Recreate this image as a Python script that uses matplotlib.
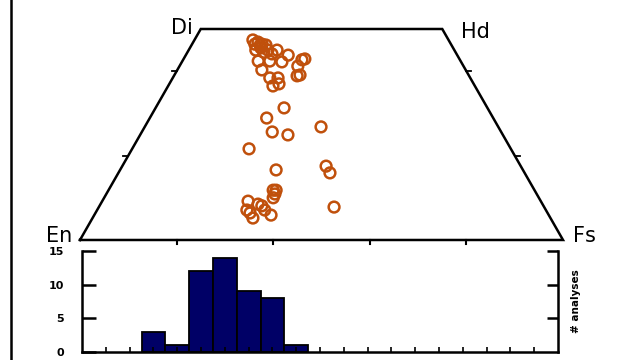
import numpy as np
import matplotlib.pyplot as plt
from matplotlib.lines import Line2D

# pyroxene analyses (mol%): wollastonite and ferrosilite contents
wo = [47.4, 46.9, 46.4, 46.2, 45.5, 45.0, 45.0, 44.1, 43.8, 42.9, 42.7, 42.4,
      42.4, 42.2, 40.3, 41.2, 38.9, 39.1, 38.4, 38.4, 36.5, 37.0, 44.5, 45.0,
      31.3, 28.9, 25.6, 24.9, 26.8, 21.6, 16.6, 17.5, 15.9, 11.8, 10.9, 10.0,
      9.2, 8.5, 8.1, 7.1, 5.2, 6.4, 5.9, 7.8, 11.8, 7.1, 46.2, 46.4]
fs = [12.1, 13.4, 14.5, 15.4, 14.7, 16.4, 18.3, 17.7, 21.2, 25.1, 24.6, 15.7,
      18.1, 20.7, 17.5, 24.5, 25.5, 26.0, 21.8, 20.1, 21.7, 22.7, 15.8, 13.9,
      26.6, 24.2, 27.0, 30.6, 36.5, 24.2, 32.3, 42.2, 43.8, 34.1, 34.9, 35.0,
      30.2, 32.6, 33.6, 31.0, 33.2, 32.0, 36.6, 48.7, 34.7, 34.7, 14.2, 13.0]

# histogram (number of analyses per class)
bin_pos = [3, 4, 5, 6, 7, 8, 9]
counts = [3, 1, 12, 14, 9, 8, 1]

wo = np.array(wo)
fs = np.array(fs)

plt.rcParams['font.family'] = ['DejaVu Sans']
fig = plt.figure(figsize=(6.29, 3.6), dpi=100)

# quadrilateral
ax = fig.add_axes([0, 0, 1, 1])
ax.set_xlim(-16.56, 113.66)
ax.set_ylim(-28.44, 56.87)
ax.axis('off')

quad_x = [0, 25, 75, 100, 0]
quad_y = [0, 50, 50, 0, 0]
ax.plot(quad_x, quad_y, color='black', lw=1.8, solid_joinstyle='miter')

for t in [20, 40, 60, 80]:
    ax.plot([t, t], [0, -1.0], color='black', lw=1.5)
for w in [20, 40]:
    ax.plot([w / 2, w / 2 - 1.0], [w, w], color='black', lw=1.3)
    ax.plot([100 - w / 2, 100 - w / 2 + 1.0], [w, w], color='black', lw=1.3)

ax.scatter(fs + wo / 2, wo, s=60, facecolors='none', edgecolors='#c0500c',
           linewidths=1.8, zorder=3)

lab = dict(fontsize=15, color='black')
ax.text(23.4, 48.8, 'Di', ha='right', va='baseline', **lab)
ax.text(78.9, 47.9, 'Hd', ha='left', va='baseline', **lab)
ax.text(-1.7, -0.5, 'En', ha='right', va='baseline', **lab)
ax.text(102.1, -0.5, 'Fs', ha='left', va='baseline', **lab)

# histogram
hx = fig.add_axes([82 / 629, 8 / 360, 476 / 629, 101 / 360])
hx.patch.set_alpha(0)
hx.bar(bin_pos, counts, width=1.0, color='#000066', edgecolor='black', linewidth=1.3)
hx.set_xlim(0, 20)
hx.set_ylim(0, 15)
hx.spines['top'].set_visible(False)
for s in ['left', 'right', 'bottom']:
    hx.spines[s].set_linewidth(1.8)
hx.set_xticks(range(1, 20))
hx.set_xticklabels([])
hx.tick_params(axis='x', direction='in', length=3.5, width=1.2)
hx.set_yticks([0, 5, 10, 15])
hx.set_yticklabels(['0', '5', '10', '15'], fontsize=8, fontweight='bold')
hx.tick_params(axis='y', direction='in', length=10, width=1.8, pad=13)

rx = hx.twinx()
rx.set_ylim(0, 15)
rx.set_yticks([5, 10, 15])
rx.set_yticklabels([])
rx.tick_params(axis='y', direction='in', length=8, width=1.8)
for s in rx.spines.values():
    s.set_visible(False)
rx.set_ylabel('# analyses', rotation=90, fontsize=7.5, fontweight='bold', labelpad=6)

# left border
fig.add_artist(Line2D([11 / 629, 11 / 629], [0, 1], color='black', lw=1.8))

plt.savefig('out.png', dpi=100)
